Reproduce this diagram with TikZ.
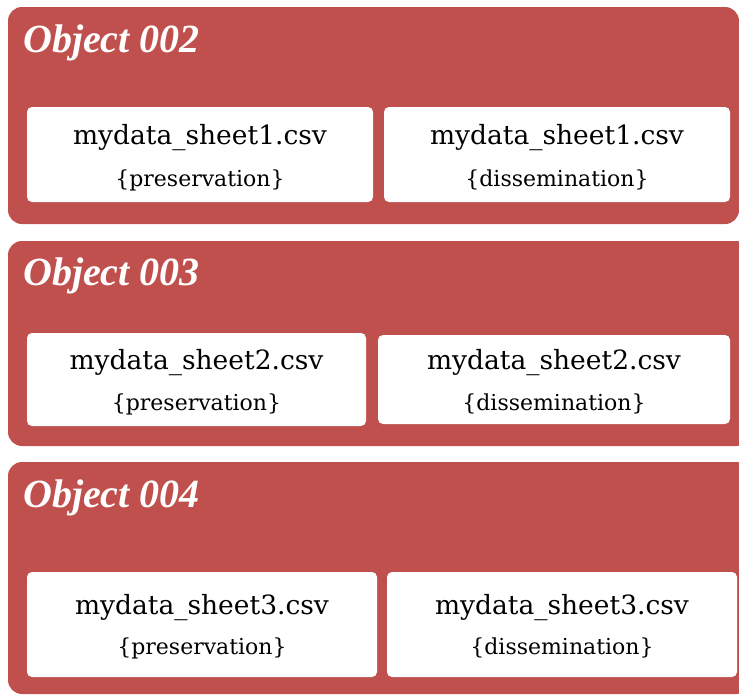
\documentclass[tikz,border=0pt]{standalone}
\usepackage{fontspec}
\setmainfont{DejaVu Serif}
\newfontfamily\titlefont{Liberation Serif}
\definecolor{panelred}{HTML}{C0504D}
\begin{document}
\begin{tikzpicture}[x=1pt,y=-1pt,
  panel/.style={fill=panelred, draw=none, rounded corners=14pt},
  filebox/.style={fill=white, draw=none, rounded corners=5pt, inner sep=0pt},
  ttl/.style={anchor=base west, text=white, inner sep=0pt,
    font=\titlefont\bfseries\itshape\fontsize{40}{40}\selectfont},
  fname/.style={anchor=base, inner sep=0pt, font=\fontsize{26.5}{26.5}\selectfont},
  role/.style={anchor=base, inner sep=0pt, font=\fontsize{22}{22}\selectfont}]
\useasboundingbox (0,0) rectangle (739,696);
\begin{scope}
\clip (0,0) rectangle (739,696);
% panels
\fill[panel] (8,7) rectangle (739,224);
\fill[panel] (8,241) rectangle (750,446);
\fill[panel] (8,462) rectangle (750,694);
% titles
\node[ttl] (t2) at (23,52) {Object 002};
\node[ttl] (t3) at (23,285) {Object 003};
\node[ttl] (t4) at (23,507) {Object 004};
% boxes panel 1
\node[filebox, minimum width=346pt, minimum height=95pt] (b1a) at (200,154.5) {};
\node[filebox, minimum width=346pt, minimum height=95pt] (b1b) at (557,154.5) {};
% boxes panel 2
\node[filebox, minimum width=339pt, minimum height=93pt] (b2a) at (196.5,379.5) {};
\node[filebox, minimum width=352pt, minimum height=89pt] (b2b) at (554,379.5) {};
% boxes panel 3
\node[filebox, minimum width=350pt, minimum height=105pt] (b3a) at (202,624.5) {};
\node[filebox, minimum width=350pt, minimum height=105pt] (b3b) at (562,624.5) {};
% texts
\node[fname] (f1a) at (200,144) {mydata\_sheet1.csv};
\node[role]  (r1a) at (200,186) {\{preservation\}};
\node[fname] (f1b) at (557,144) {mydata\_sheet1.csv};
\node[role]  (r1b) at (557,186) {\{dissemination\}};
\node[fname] (f2a) at (196.5,369) {mydata\_sheet2.csv};
\node[role]  (r2a) at (196.5,410) {\{preservation\}};
\node[fname] (f2b) at (554,369) {mydata\_sheet2.csv};
\node[role]  (r2b) at (554,410) {\{dissemination\}};
\node[fname] (f3a) at (202,614) {mydata\_sheet3.csv};
\node[role]  (r3a) at (202,654) {\{preservation\}};
\node[fname] (f3b) at (562,614) {mydata\_sheet3.csv};
\node[role]  (r3b) at (562,654) {\{dissemination\}};
\end{scope}
\end{tikzpicture}
\end{document}
